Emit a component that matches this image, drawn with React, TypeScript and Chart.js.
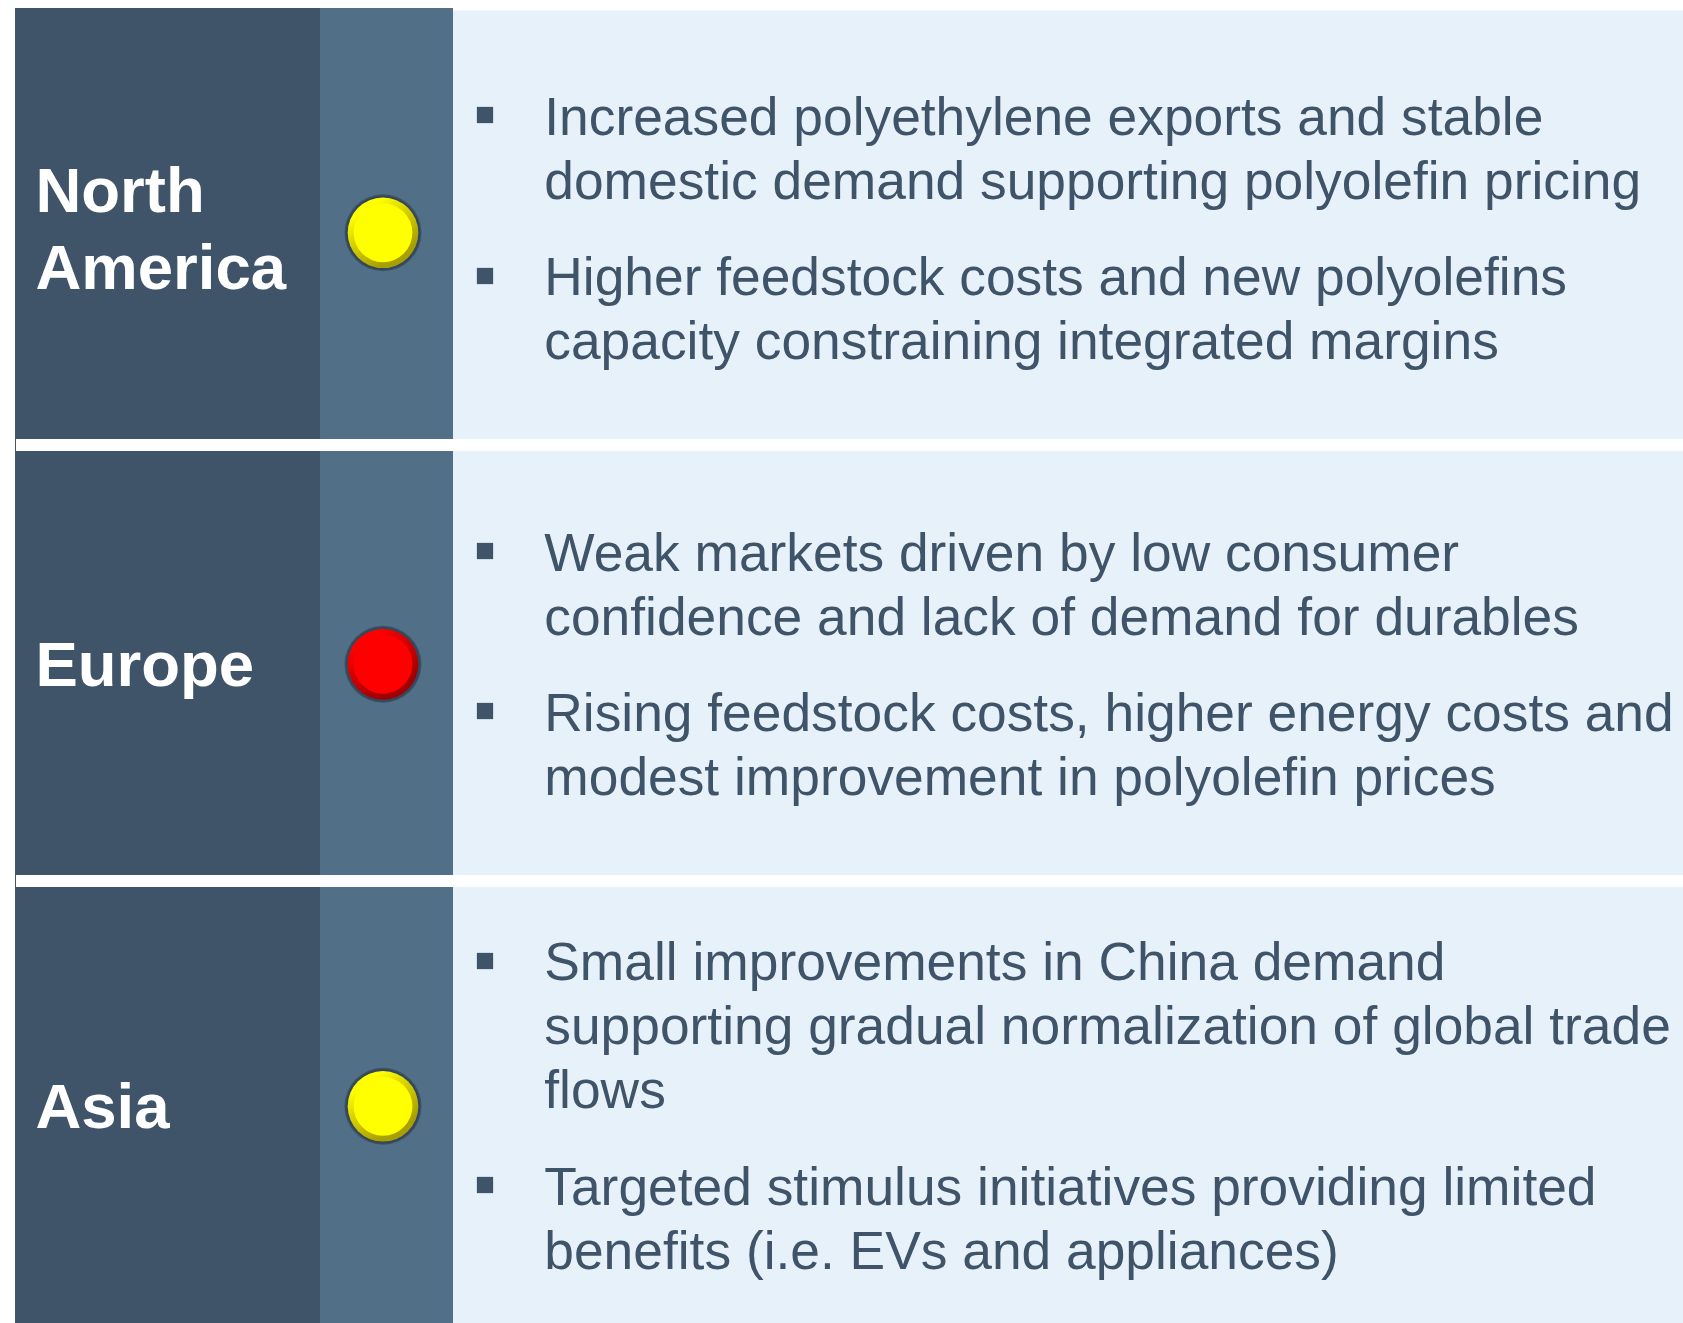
import React, { useEffect, useRef } from "react";
import { Chart, registerables } from "chart.js";

Chart.register(...registerables);

const regions = ["North America", "Europe", "Asia"];
const ratings = ["yellow", "red", "yellow"];
const regionLines = [["North", "America"], ["Europe"], ["Asia"]];
const commentary = [
  [
    ["Increased polyethylene exports and stable", "domestic demand supporting polyolefin pricing"],
    ["Higher feedstock costs and new polyolefins", "capacity constraining integrated margins"],
  ],
  [
    ["Weak markets driven by low consumer", "confidence and lack of demand for durables"],
    ["Rising feedstock costs, higher energy costs and", "modest improvement in polyolefin prices"],
  ],
  [
    ["Small improvements in China demand", "supporting gradual normalization of global trade", "flows"],
    ["Targeted stimulus initiatives providing limited", "benefits (i.e. EVs and appliances)"],
  ],
];

// Layout, on page-pixel scales
const W = 1683;
const H = 1323;
const rowSpans = [[8, 439], [451, 875], [887, 1323]];
const columns = [[15, 320], [320, 453], [453, 1683]];
const lightTop = 10.5;
const ratingX = 383;
const ratingY = [232.8, 664.3, 1106.3];
const labelX = 35.4;
const labelBaselines = [[212.3, 289], [686], [1127.5]];
const textX = 544.3;
const textBaselines = [
  [[135, 199], [295, 359]],
  [[571, 635], [731, 795]],
  [[980, 1044.3, 1108], [1204.5, 1269]],
];
const bulletX = 485;
const bulletY = [[115, 276], [551, 711], [961, 1185]];

const DARK = "#3f5468";
const MID = "#516f87";
const LIGHT = "#e6f1fa";
const TEXT = "#3f5468";
const FACE: Record<string, string> = { yellow: "#ffff00", red: "#ff0000" };
const BEVEL: Record<string, string[]> = {
  yellow: ["#ffff00", "#eaea00", "#d8d000", "#c4bc00", "#a8a000"],
  red: ["#ff0000", "#ea0000", "#d40000", "#c00000", "#a00000"],
};
const BEVEL_STOPS = [0.08, 0.22, 0.4, 0.6, 0.88];

export default function App() {
  const ref = useRef<HTMLCanvasElement>(null);
  useEffect(() => {
    const canvas = ref.current!;
    const band = (col: number, color: string) =>
      rowSpans.map((span, r) => ({
        type: "bar" as const,
        indexAxis: "y" as const,
        order: 10,
        grouped: false,
        inflateAmount: 0,
        barThickness: col === 2 && r === 0 ? span[1] - lightTop : span[1] - span[0],
        backgroundColor: color,
        borderWidth: 0,
        data: [
          {
            x: columns[col],
            y: col === 2 && r === 0 ? (lightTop + span[1]) / 2 : (span[0] + span[1]) / 2,
          },
        ],
      }));
    const ratingPts = ratingY.map((y) => ({ x: ratingX, y }));
    const bevelColor = (c: any) => {
      if (c.dataIndex === undefined || !c.chart.scales.x) return "#888888";
      const px = c.chart.scales.x.getPixelForValue(ratingX);
      const py = c.chart.scales.y.getPixelForValue(ratingY[c.dataIndex]);
      if (!Number.isFinite(px) || !Number.isFinite(py)) return "#888888";
      const g = c.chart.ctx.createLinearGradient(px - 19, py - 29, px + 19, py + 29);
      const s = BEVEL[ratings[c.dataIndex]];
      s.forEach((col, i) => g.addColorStop(BEVEL_STOPS[i], col));
      return g;
    };
    const textPlugin = {
      id: "panelText",
      afterDatasetsDraw(chart: any) {
        const { ctx, scales } = chart;
        const X = (v: number) => scales.x.getPixelForValue(v);
        const Y = (v: number) => scales.y.getPixelForValue(v);
        ctx.save();
        ctx.textBaseline = "alphabetic";
        ctx.textAlign = "left";
        ctx.fillStyle = "#ffffff";
        ctx.font = 'bold 63.5px "Liberation Sans"';
        regionLines.forEach((lines, r) =>
          lines.forEach((t, i) => ctx.fillText(t, X(labelX), Y(labelBaselines[r][i])))
        );
        ctx.fillStyle = TEXT;
        ctx.font = '53.33px "Liberation Sans"';
        commentary.forEach((bullets, r) =>
          bullets.forEach((lines, b) =>
            lines.forEach((t, i) => ctx.fillText(t, X(textX), Y(textBaselines[r][b][i])))
          )
        );
        ctx.restore();
      },
    };
    const dot = (order: number, radius: number, color: any, data: any[], style = "circle") =>
      ({
        type: "scatter",
        order,
        showLine: false,
        pointStyle: style,
        pointRadius: radius,
        pointBorderWidth: 0,
        pointBackgroundColor: color,
        data,
      } as any);
    const chart = new Chart(canvas, {
      type: "bar",
      data: {
        labels: regions,
        datasets: [
          ...band(0, DARK),
          ...band(1, MID),
          ...band(2, LIGHT),
          {
            type: "bar",
            indexAxis: "y",
            order: 9,
            grouped: false,
            inflateAmount: 0,
            barThickness: 12,
            backgroundColor: DARK,
            borderWidth: 0,
            data: [{ x: [15, 16], y: 445 }, { x: [15, 16], y: 881 }],
          } as any,
          dot(5, 38.5, "rgba(52,70,88,0.7)", ratingPts),
          dot(4, 37.2, "rgba(52,70,88,0.95)", ratingPts),
          dot(3, 35.3, bevelColor, ratingPts),
          dot(2, 29.4, ratings.map((r) => FACE[r]), ratingPts),
          dot(1, 11.5, TEXT, bulletY.flat().map((y) => ({ x: bulletX, y })), "rect"),
        ],
      } as any,
      options: {
        animation: false,
        responsive: false,
        maintainAspectRatio: false,
        layout: { padding: 0, autoPadding: false },
        events: [],
        plugins: { legend: { display: false }, tooltip: { enabled: false }, title: { display: false } },
        scales: {
          x: { type: "linear", display: false, min: 0, max: W, offset: false },
          y: { type: "linear", display: false, min: 0, max: H, reverse: true, offset: false },
        },
      } as any,
      plugins: [textPlugin],
    });
    return () => chart.destroy();
  }, []);
  return (
    <div style={{ position: "absolute", left: 0, top: 0, width: W, height: H, background: "#fff" }}>
      <canvas ref={ref} width={W} height={H} style={{ display: "block", width: W, height: H }} />
    </div>
  );
}
